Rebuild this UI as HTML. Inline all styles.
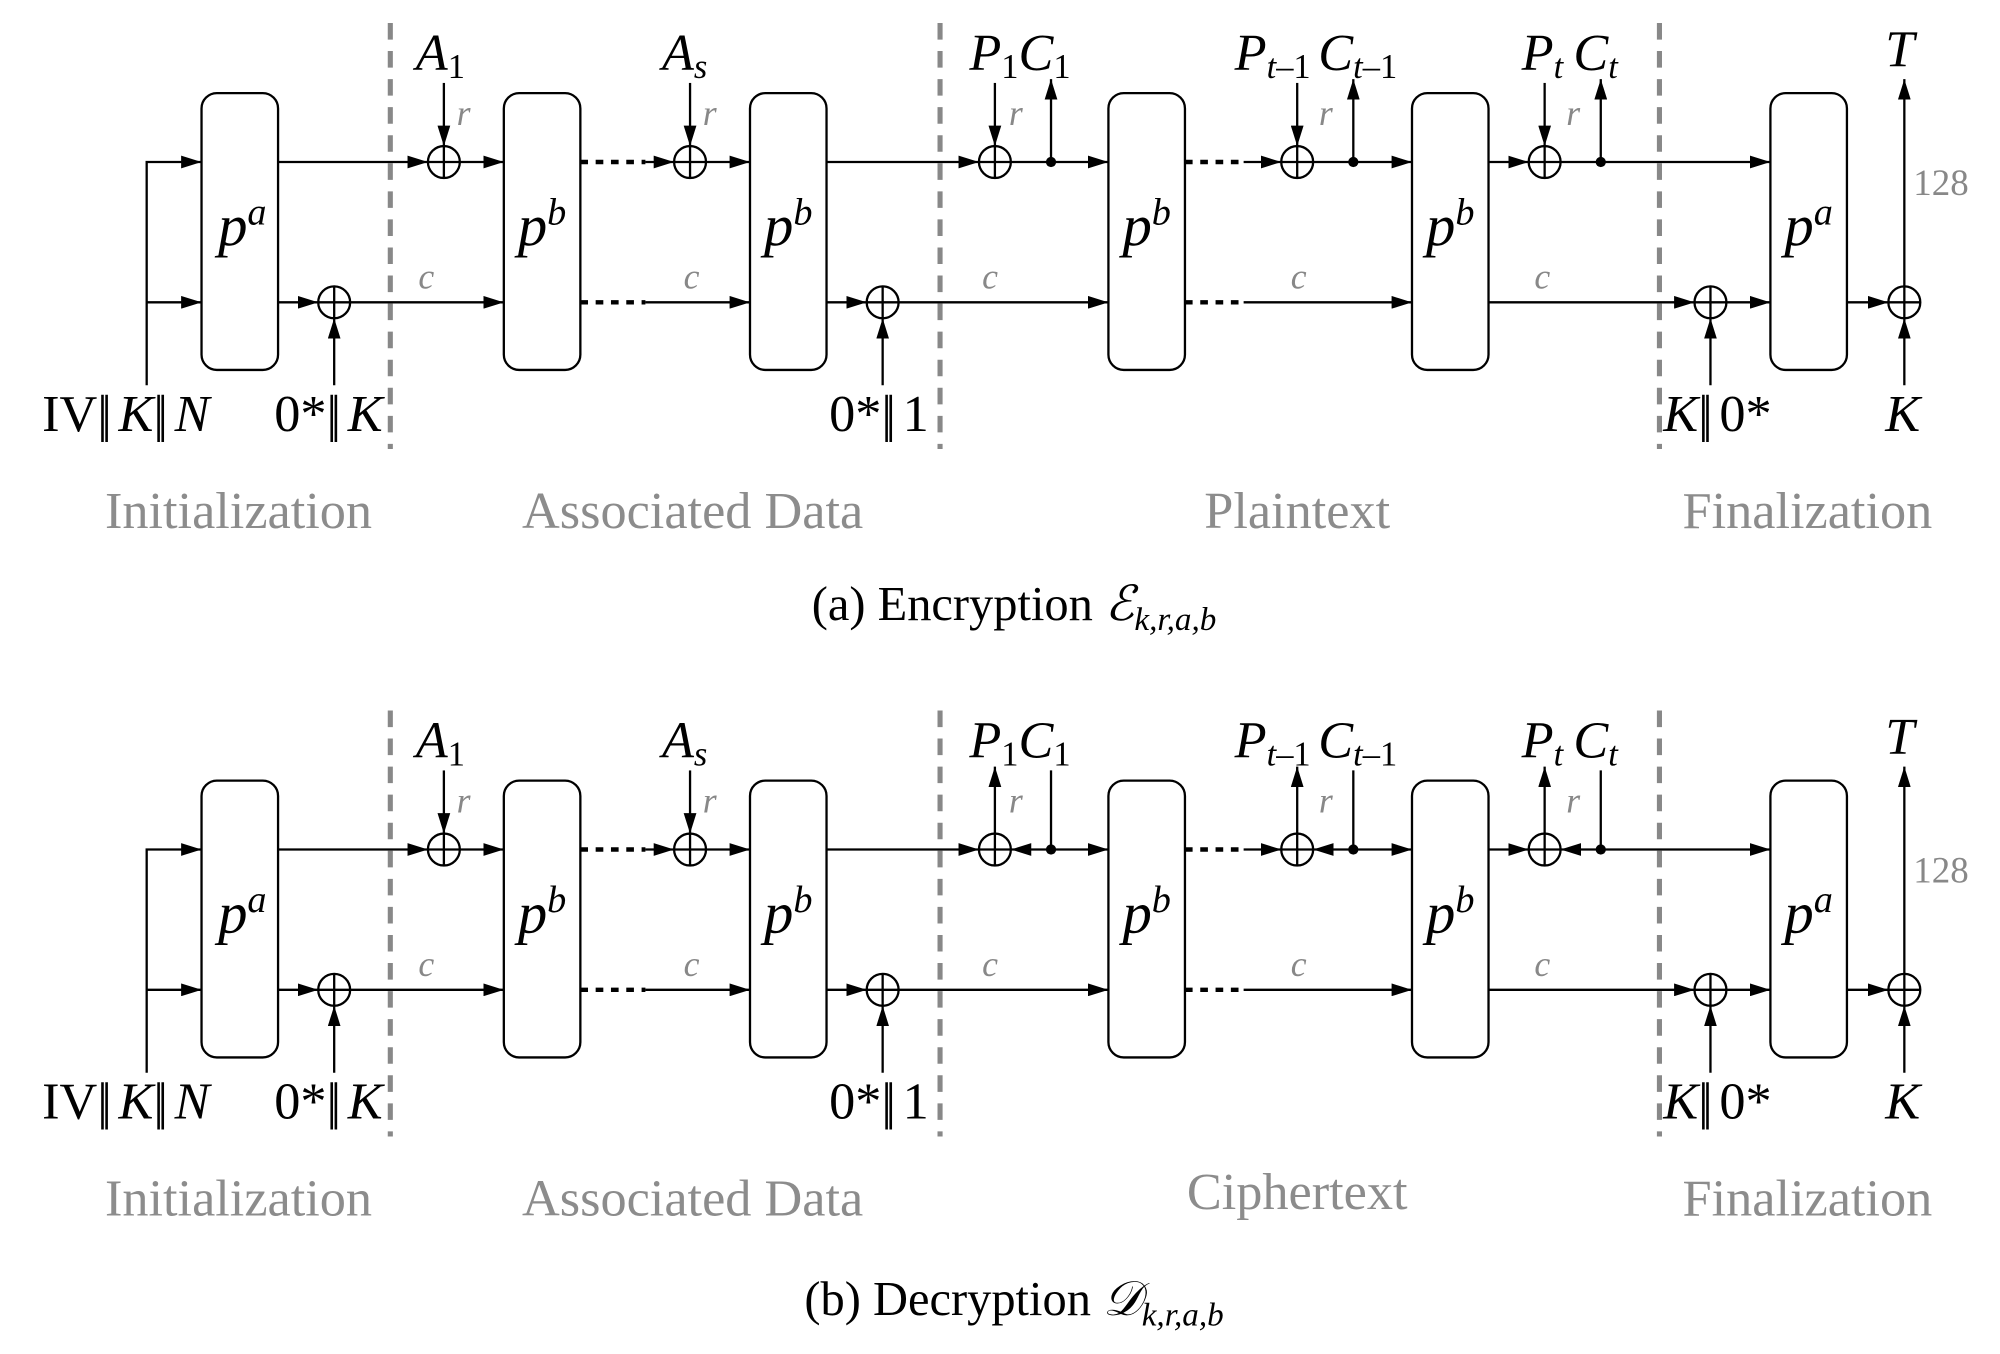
<!DOCTYPE html>
<html><head><meta charset="utf-8"><style>
html,body{margin:0;padding:0;background:#fff;}
svg{display:block;}
text{font-family:"Liberation Serif","DejaVu Serif",serif;}
.m{font-size:41px;fill:#000;}
.i{font-style:italic;}
.g{fill:#888;}
.s{font-size:27px;}
.sec{font-size:41px;fill:#8c8c8c;}
.cap{font-size:38px;fill:#000;}
.bar{letter-spacing:-5px;}
</style></head><body>
<svg width="2000" height="1354" viewBox="0 0 1568 1061.5" xmlns="http://www.w3.org/2000/svg">
<defs>
<marker id="a" viewBox="0 0 16 10" refX="16" refY="5" markerWidth="16" markerHeight="10" markerUnits="userSpaceOnUse" orient="auto"><path d="M0,0 L16,5 L0,10 z" fill="#000"/></marker>
<g id="xor"><circle r="12.5" fill="none" stroke="#000" stroke-width="1.8"/><line x1="-12.5" y1="0" x2="12.5" y2="0" stroke="#000" stroke-width="1.8"/><line x1="0" y1="-12.5" x2="0" y2="12.5" stroke="#000" stroke-width="1.8"/></g>
<g id="common" stroke="#000" stroke-width="1.8" fill="none">
 <rect x="158" y="73" width="60" height="217" rx="12"/>
 <rect x="395" y="73" width="60" height="217" rx="12"/>
 <rect x="588" y="73" width="60" height="217" rx="12"/>
 <rect x="869" y="73" width="60" height="217" rx="12"/>
 <rect x="1107" y="73" width="60" height="217" rx="12"/>
 <rect x="1388" y="73" width="60" height="217" rx="12"/>
 <g stroke="#888" stroke-width="4" stroke-dasharray="13,9">
  <line x1="306" y1="18" x2="306" y2="352"/><line x1="737" y1="18" x2="737" y2="352"/><line x1="1301" y1="18" x2="1301" y2="352"/>
 </g>
 <polyline points="115,302 115,127 158,127" marker-end="url(#a)"/>
 <line x1="115" y1="237" x2="158" y2="237" marker-end="url(#a)"/>
 <line x1="218" y1="237" x2="249.5" y2="237" marker-end="url(#a)"/>
 <line x1="262" y1="302" x2="262" y2="249.5" marker-end="url(#a)"/>
 <line x1="274.5" y1="237" x2="395" y2="237" marker-end="url(#a)"/>
 <line x1="218" y1="127" x2="335.5" y2="127" marker-end="url(#a)"/>
 <line x1="348" y1="65" x2="348" y2="114.5" marker-end="url(#a)"/>
 <line x1="360.5" y1="127" x2="395" y2="127" marker-end="url(#a)"/>
 <line x1="455" y1="127" x2="506" y2="127" stroke-width="3.5" stroke-dasharray="6,6"/>
 <line x1="506" y1="127" x2="528.5" y2="127" marker-end="url(#a)"/>
 <line x1="541" y1="65" x2="541" y2="114.5" marker-end="url(#a)"/>
 <line x1="553.5" y1="127" x2="588" y2="127" marker-end="url(#a)"/>
 <line x1="455" y1="237" x2="506" y2="237" stroke-width="3.5" stroke-dasharray="6,6"/>
 <line x1="506" y1="237" x2="588" y2="237" marker-end="url(#a)"/>
 <line x1="648" y1="237" x2="679.5" y2="237" marker-end="url(#a)"/>
 <line x1="692" y1="302" x2="692" y2="249.5" marker-end="url(#a)"/>
 <line x1="704.5" y1="237" x2="869" y2="237" marker-end="url(#a)"/>
 <line x1="929" y1="237" x2="975" y2="237" stroke-width="3.5" stroke-dasharray="6,6"/>
 <line x1="975" y1="237" x2="1107" y2="237" marker-end="url(#a)"/>
 <line x1="1167" y1="237" x2="1328.5" y2="237" marker-end="url(#a)"/>
 <line x1="1341" y1="302" x2="1341" y2="249.5" marker-end="url(#a)"/>
 <line x1="1353.5" y1="237" x2="1388" y2="237" marker-end="url(#a)"/>
 <line x1="1448" y1="237" x2="1480.5" y2="237" marker-end="url(#a)"/>
 <line x1="1493" y1="302" x2="1493" y2="249.5" marker-end="url(#a)"/>
 <line x1="1493" y1="224.5" x2="1493" y2="62" marker-end="url(#a)"/>
</g>
<g id="labels">
 <text x="33" y="338" class="m">IV<tspan class="bar">||</tspan> <tspan class="i">K</tspan><tspan class="bar">||</tspan> <tspan class="i">N</tspan></text>
 <text x="215" y="338" class="m">0*<tspan class="bar">||</tspan> <tspan class="i">K</tspan></text>
 <text x="650" y="338" class="m">0*<tspan class="bar">||</tspan> 1</text>
 <text x="1304" y="338" class="m"><tspan class="i">K</tspan><tspan class="bar">||</tspan> 0*</text>
 <text x="1478" y="338" class="m i">K</text>
 <text x="1478" y="52" class="m i">T</text>
 <text x="1500" y="153" class="g" style="font-size:29px">128</text>
 <text x="326" y="55" class="m i">A<tspan class="s" dy="6" style="font-style:normal">1</tspan></text>
 <text x="519" y="55" class="m i">A<tspan class="s" dy="6">s</tspan></text>
 <text x="358" y="98" class="g i" style="font-size:28px">r</text>
 <text x="551" y="98" class="g i" style="font-size:28px">r</text>
 <text x="328" y="226" class="g i" style="font-size:28px">c</text>
 <text x="536" y="226" class="g i" style="font-size:28px">c</text>
 <text x="770" y="226" class="g i" style="font-size:28px">c</text>
 <text x="1012" y="226" class="g i" style="font-size:28px">c</text>
 <text x="1203" y="226" class="g i" style="font-size:28px">c</text>
 <text x="760" y="55" class="m i">P<tspan class="s" dy="6" style="font-style:normal">1</tspan><tspan dy="-6">C</tspan><tspan class="s" dy="6" style="font-style:normal">1</tspan></text>
 <text x="968" y="55" class="m i">P<tspan class="s" dy="6">t</tspan><tspan class="s" style="font-style:normal">–1</tspan><tspan dx="6" dy="-6">C</tspan><tspan class="s" dy="6">t</tspan><tspan class="s" style="font-style:normal">–1</tspan></text>
 <text x="1193" y="55" class="m i">P<tspan class="s" dy="6">t</tspan><tspan dx="8" dy="-6">C</tspan><tspan class="s" dy="6">t</tspan></text>
 <text x="791" y="98" class="g i" style="font-size:28px">r</text>
 <text x="1034" y="98" class="g i" style="font-size:28px">r</text>
 <text x="1228" y="98" class="g i" style="font-size:28px">r</text>
 <text x="187" y="414" class="sec" text-anchor="middle">Initialization</text>
 <text x="543" y="414" class="sec" text-anchor="middle">Associated Data</text>
 <text x="1417" y="414" class="sec" text-anchor="middle">Finalization</text>
 <g style="font-size:46px">
 <text x="190" y="192" class="i" text-anchor="middle">p<tspan style="font-size:30px" dy="-16">a</tspan></text>
 <text x="425" y="192" class="i" text-anchor="middle">p<tspan style="font-size:30px" dy="-16">b</tspan></text>
 <text x="618" y="192" class="i" text-anchor="middle">p<tspan style="font-size:30px" dy="-16">b</tspan></text>
 <text x="899" y="192" class="i" text-anchor="middle">p<tspan style="font-size:30px" dy="-16">b</tspan></text>
 <text x="1137" y="192" class="i" text-anchor="middle">p<tspan style="font-size:30px" dy="-16">b</tspan></text>
 <text x="1418" y="192" class="i" text-anchor="middle">p<tspan style="font-size:30px" dy="-16">a</tspan></text>
 </g>
</g>
<g id="xors">
 <use href="#xor" x="262" y="237"/><use href="#xor" x="348" y="127"/><use href="#xor" x="541" y="127"/>
 <use href="#xor" x="692" y="237"/><use href="#xor" x="780" y="127"/><use href="#xor" x="1017" y="127"/>
 <use href="#xor" x="1211" y="127"/><use href="#xor" x="1341" y="237"/><use href="#xor" x="1493" y="237"/>
</g>
</defs>

<use href="#common"/><use href="#labels"/><use href="#xors"/>
<g stroke="#000" stroke-width="1.8" fill="none">
 <line x1="648" y1="127" x2="767.5" y2="127" marker-end="url(#a)"/>
 <line x1="780" y1="65" x2="780" y2="114.5" marker-end="url(#a)"/>
 <line x1="792.5" y1="127" x2="869" y2="127" marker-end="url(#a)"/>
 <line x1="824" y1="127" x2="824" y2="62" marker-end="url(#a)"/>
 <line x1="929" y1="127" x2="975" y2="127" stroke-width="3.5" stroke-dasharray="6,6"/>
 <line x1="975" y1="127" x2="1004.5" y2="127" marker-end="url(#a)"/>
 <line x1="1017" y1="65" x2="1017" y2="114.5" marker-end="url(#a)"/>
 <line x1="1029.5" y1="127" x2="1107" y2="127" marker-end="url(#a)"/>
 <line x1="1061" y1="127" x2="1061" y2="62" marker-end="url(#a)"/>
 <line x1="1167" y1="127" x2="1198.5" y2="127" marker-end="url(#a)"/>
 <line x1="1211" y1="65" x2="1211" y2="114.5" marker-end="url(#a)"/>
 <line x1="1223.5" y1="127" x2="1388" y2="127" marker-end="url(#a)"/>
 <line x1="1255" y1="127" x2="1255" y2="62" marker-end="url(#a)"/>
</g>
<g fill="#000"><circle cx="824" cy="127" r="4"/><circle cx="1061" cy="127" r="4"/><circle cx="1255" cy="127" r="4"/></g>
<text x="1017" y="414" class="sec" text-anchor="middle">Plaintext</text>
<text x="795" y="486" class="cap" text-anchor="middle">(a) Encryption <tspan class="i" font-family="DejaVu Serif">ℰ</tspan><tspan class="i" style="font-size:26px" dy="8">k,r,a,b</tspan></text>

<g transform="translate(0,539)">
<use href="#common"/><use href="#labels"/><use href="#xors"/>
<g stroke="#000" stroke-width="1.8" fill="none">
 <line x1="648" y1="127" x2="767.5" y2="127" marker-end="url(#a)"/>
 <line x1="780" y1="114.5" x2="780" y2="62" marker-end="url(#a)"/>
 <line x1="824" y1="65" x2="824" y2="127"/>
 <line x1="824" y1="127" x2="792.5" y2="127" marker-end="url(#a)"/>
 <line x1="824" y1="127" x2="869" y2="127" marker-end="url(#a)"/>
 <line x1="929" y1="127" x2="975" y2="127" stroke-width="3.5" stroke-dasharray="6,6"/>
 <line x1="975" y1="127" x2="1004.5" y2="127" marker-end="url(#a)"/>
 <line x1="1017" y1="114.5" x2="1017" y2="62" marker-end="url(#a)"/>
 <line x1="1061" y1="65" x2="1061" y2="127"/>
 <line x1="1061" y1="127" x2="1029.5" y2="127" marker-end="url(#a)"/>
 <line x1="1061" y1="127" x2="1107" y2="127" marker-end="url(#a)"/>
 <line x1="1167" y1="127" x2="1198.5" y2="127" marker-end="url(#a)"/>
 <line x1="1211" y1="114.5" x2="1211" y2="62" marker-end="url(#a)"/>
 <line x1="1255" y1="65" x2="1255" y2="127"/>
 <line x1="1255" y1="127" x2="1223.5" y2="127" marker-end="url(#a)"/>
 <line x1="1255" y1="127" x2="1388" y2="127" marker-end="url(#a)"/>
</g>
<g fill="#000"><circle cx="824" cy="127" r="4"/><circle cx="1061" cy="127" r="4"/><circle cx="1255" cy="127" r="4"/></g>
<text x="1017" y="409" class="sec" text-anchor="middle">Ciphertext</text>
<text x="795" y="492" class="cap" text-anchor="middle">(b) Decryption <tspan class="i" font-family="DejaVu Serif">𝒟</tspan><tspan class="i" style="font-size:26px" dy="8">k,r,a,b</tspan></text>
</g>
</svg>
</body></html>
